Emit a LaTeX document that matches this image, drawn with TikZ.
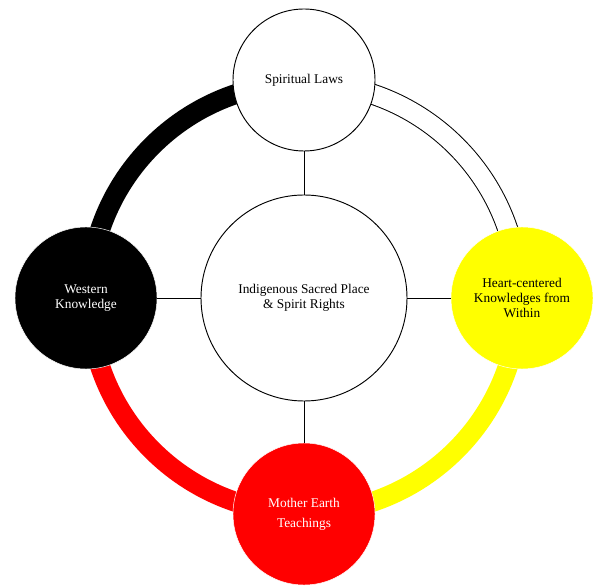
\documentclass[tikz,border=0pt]{standalone}
\usepackage{fontspec}
\setmainfont{Liberation Serif}
\definecolor{wheelred}{RGB}{255, 0, 0}
\definecolor{wheelyellow}{RGB}{255, 255, 0}
\usepackage{tikz}
\tikzset{
  outercircle/.style={circle, minimum size=4.26cm, inner sep=0pt, align=center, font=\fontsize{11.4}{12.9}\selectfont},
  ringarc/.style={line width=0.6cm},
}

\begin{document}
\begin{tikzpicture}[x=0.03cm, y=0.03cm]
  \useasboundingbox (0, 0) rectangle (593, 585);

  % The wheel
  \coordinate (hub) at (304, 287);
  \draw[ringarc, black] ([shift={(90:215)}]hub) arc[start angle=90, end angle=180, radius=215];
  \draw[ringarc, wheelred] ([shift={(180:215)}]hub) arc[start angle=180, end angle=270, radius=215];
  \draw[ringarc, wheelyellow] ([shift={(270:215)}]hub) arc[start angle=270, end angle=360, radius=215];
  \draw[black, line width=0.85pt, double=white, double distance=0.57cm] ([shift={(0:215)}]hub) arc[start angle=0, end angle=90, radius=215];

  % Center
  \node[circle, draw=black, thick, fill=white, minimum size=6.18cm, inner sep=0pt, align=center, font=\fontsize{11.4}{12.9}\selectfont] (sacred) at (hub) {Indigenous Sacred Place\\\& Spirit Rights};

  % Four directions
  \node[outercircle, draw=black, thick, fill=white] (laws) at (304, 505) {Spiritual Laws};
  \node[outercircle, draw=white, fill=black, text=white] (western) at (86, 287) {Western\\Knowledge};
  \node[outercircle, draw=white, fill=wheelyellow] (heart) at (522, 287) {Heart-centered\\Knowledges from\\Within};
  \node[outercircle, draw=white, fill=wheelred, text=white, font=\fontsize{11.4}{17}\selectfont] (earth) at (304, 71) {Mother Earth\\Teachings};

  % Spokes
  \draw[thick] (sacred.north) -- (laws.south);
  \draw[thick] (sacred.west) -- (western.east);
  \draw[thick] (sacred.east) -- (heart.west);
  \draw[thick] (sacred.south) -- (earth.north);
\end{tikzpicture}
\end{document}
